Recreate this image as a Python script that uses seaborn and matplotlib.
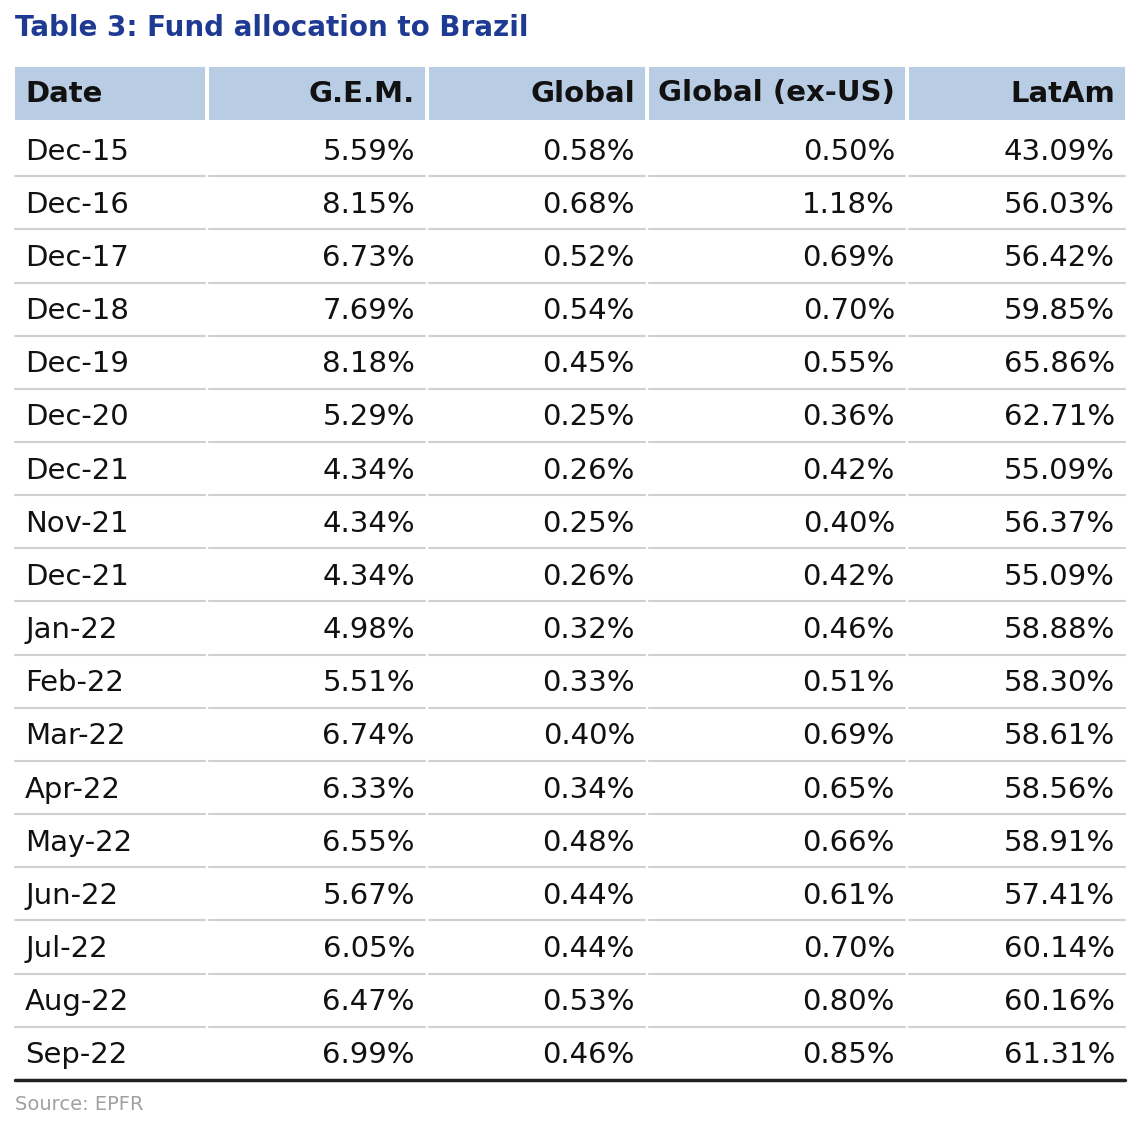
import matplotlib
matplotlib.use("Agg")
import matplotlib.pyplot as plt
from matplotlib.patches import Rectangle
import seaborn as sns

title = "Table 3: Fund allocation to Brazil"
source = "Source: EPFR"
columns = ["Date", "G.E.M.", "Global", "Global (ex-US)", "LatAm"]
dates = ["Dec-15","Dec-16","Dec-17","Dec-18","Dec-19","Dec-20","Dec-21","Nov-21","Dec-21",
         "Jan-22","Feb-22","Mar-22","Apr-22","May-22","Jun-22","Jul-22","Aug-22","Sep-22"]
gem = [5.59,8.15,6.73,7.69,8.18,5.29,4.34,4.34,4.34,4.98,5.51,6.74,6.33,6.55,5.67,6.05,6.47,6.99]
glob = [0.58,0.68,0.52,0.54,0.45,0.25,0.26,0.25,0.26,0.32,0.33,0.40,0.34,0.48,0.44,0.44,0.53,0.46]
glob_exus = [0.50,1.18,0.69,0.70,0.55,0.36,0.42,0.40,0.42,0.46,0.51,0.69,0.65,0.66,0.61,0.70,0.80,0.85]
latam = [43.09,56.03,56.42,59.85,65.86,62.71,55.09,56.37,55.09,58.88,58.30,58.61,58.56,58.91,57.41,60.14,60.16,61.31]

sns.set_theme(style="white")
plt.rcParams['font.family'] = ['DejaVu Sans']

fig = plt.figure(figsize=(11.4, 11.3), dpi=100)
ax = fig.add_axes([0, 0, 1, 1])
ax.set_xlim(0, 1140); ax.set_ylim(1130, 0); ax.axis("off")

col_edges = [(15, 205), (209, 425), (429, 645), (649, 905), (909, 1125)]
header_top, header_bot = 67, 120
row_h = (1080 - 123) / len(dates)
fs = 21

ax.text(15, 28, title, fontsize=20, fontweight="bold", color="#1F3A93", va="center", ha="left")

for i, (l, r) in enumerate(col_edges):
    ax.add_patch(Rectangle((l, header_top), r - l, header_bot - header_top, color="#B8CCE4", lw=0))
    if i == 0:
        ax.text(l + 10, (header_top + header_bot) / 2, columns[i], fontsize=fs, fontweight="bold",
                va="center", ha="left", color="#111111")
    else:
        ax.text(r - 10, (header_top + header_bot) / 2, columns[i], fontsize=fs, fontweight="bold",
                va="center", ha="right", color="#111111")

for k in range(len(dates)):
    y0 = 123 + k * row_h
    yc = y0 + row_h / 2 + 2
    vals = [dates[k], f"{gem[k]:.2f}%", f"{glob[k]:.2f}%", f"{glob_exus[k]:.2f}%", f"{latam[k]:.2f}%"]
    for i, (l, r) in enumerate(col_edges):
        if i == 0:
            ax.text(l + 10, yc, vals[i], fontsize=fs, va="center", ha="left", color="#111111")
        else:
            ax.text(r - 10, yc, vals[i], fontsize=fs, va="center", ha="right", color="#111111")
        ybot = y0 + row_h
        if k < len(dates) - 1:
            ax.plot([l, r], [ybot, ybot], color="#D0D0D0", lw=1.5)
ax.plot([15, 1125], [1080, 1080], color="#222222", lw=2.5)

ax.text(15, 1105, source, fontsize=14, color="#A0A0A0", va="center", ha="left")

fig.savefig("out.png", dpi=100)
